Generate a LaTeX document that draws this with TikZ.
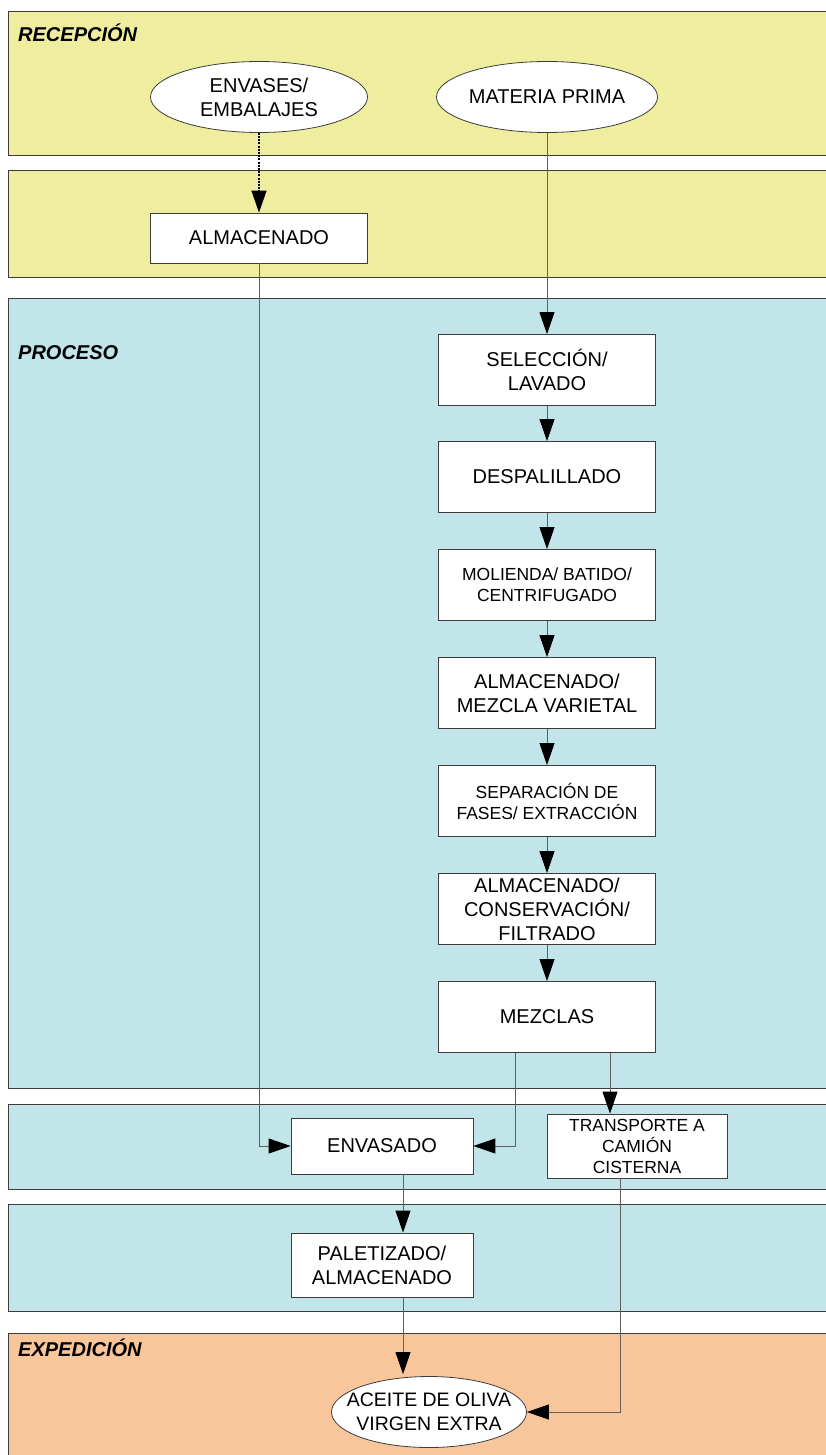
\documentclass[tikz,border=0pt]{standalone}
\usepackage{fontspec}
\setmainfont{Liberation Sans}
\usetikzlibrary{shapes.geometric,arrows.meta,positioning}

\definecolor{amarillo}{HTML}{EEEE9E}
\definecolor{celeste}{HTML}{C2E5E9}
\definecolor{naranja}{HTML}{F9C59A}
\definecolor{borde}{HTML}{3C3C3C}
\definecolor{linea}{HTML}{606060}

\tikzset{
  caja/.style={draw=borde, fill=white, line width=0.8pt, align=center, inner sep=0pt,
    minimum width=217pt, minimum height=71pt, font=\fontsize{20}{24}\selectfont},
  chica/.style={font=\fontsize{17.5}{21}\selectfont},
  elipse/.style={caja, ellipse},
  flecha/.style={draw=linea, line width=0.9pt,
    -{Triangle[length=22pt,width=15pt,color=black]}},
  punteada/.style={flecha, draw=black, line width=1.3pt, dash pattern=on 2pt off 1.2pt},
  banda/.style={draw=borde, line width=0.9pt},
  titulo/.style={anchor=west, inner sep=0pt, font=\fontsize{20}{22}\selectfont\bfseries\itshape}
}

\begin{document}
\begin{tikzpicture}[x=1pt, y=-1pt]
    \useasboundingbox (0,0) rectangle (825,1455);

    % bandas
    \filldraw[banda, fill=amarillo] (8,11) rectangle (830,155);
    \filldraw[banda, fill=amarillo] (8,170) rectangle (830,277);
    \filldraw[banda, fill=celeste] (8,298) rectangle (830,1088);
    \filldraw[banda, fill=celeste] (8,1104) rectangle (830,1189);
    \filldraw[banda, fill=celeste] (8,1204) rectangle (830,1311);
    \filldraw[banda, fill=naranja] (8,1333) rectangle (830,1460);

    \node[titulo] (trecep) at (18,33) {RECEPCIÓN};
    \node[titulo] (tproc) at (18,353) {PROCESO};
    \node[titulo] (texped) at (18,1348) {EXPEDICIÓN};

    % recepcion
    \node[elipse] (envases) at (259,97) {ENVASES/\\EMBALAJES};
    \node[elipse] (materia) at (547,97) {MATERIA PRIMA};
    \node[caja, minimum height=50pt] (almac) at (259,238) {ALMACENADO};

    % proceso
    \node[caja] (seleccion) at (547,370) {SELECCIÓN/\\LAVADO};
    \node[caja] (despal) at (547,477) {DESPALILLADO};
    \node[caja, chica] (molienda) at (547,585) {MOLIENDA/ BATIDO/\\CENTRIFUGADO};
    \node[caja] (mezclavar) at (547,693) {ALMACENADO/\\MEZCLA VARIETAL};
    \node[caja, chica] (separa) at (547,801) {SEPARACIÓN DE\\FASES/ EXTRACCIÓN};
    \node[caja] (conserva) at (547,909) {ALMACENADO/\\CONSERVACIÓN/\\FILTRADO};
    \node[caja] (mezclas) at (547,1017) {MEZCLAS};

    % envasado y expedicion
    \node[caja, minimum width=182pt, minimum height=56pt] (envasado) at (382,1146) {ENVASADO};
    \node[caja, chica, minimum width=180pt, minimum height=64pt] (transporte) at (637,1146) {TRANSPORTE A\\CAMIÓN\\CISTERNA};
    \node[caja, minimum width=182pt, minimum height=64pt] (paletizado) at (382,1265) {PALETIZADO/\\ALMACENADO};
    \node[elipse, minimum width=195pt, inner xsep=-16pt, font=\fontsize{19.5}{24}\selectfont] (aceite) at (429,1412) {ACEITE DE OLIVA\\VIRGEN EXTRA};

    % flechas
    \draw[punteada] (envases) -- (almac);
    \draw[flecha] (materia) -- (seleccion);
    \draw[flecha] (seleccion) -- (despal);
    \draw[flecha] (despal) -- (molienda);
    \draw[flecha] (molienda) -- (mezclavar);
    \draw[flecha] (mezclavar) -- (separa);
    \draw[flecha] (separa) -- (conserva);
    \draw[flecha] (conserva) -- (mezclas);
    \draw[flecha] (almac.south) |- (envasado.west);
    \draw[flecha] ([xshift=-32pt]mezclas.south) |- (envasado.east);
    \draw[flecha] ([xshift=63pt]mezclas.south) -- ([xshift=63pt]mezclas.south |- transporte.north);
    \draw[flecha] ([xshift=21pt]envasado.south) -- ([xshift=21pt]envasado.south |- paletizado.north);
    \draw[flecha] ([xshift=21pt]paletizado.south) -- ([xshift=21pt, yshift=2pt]paletizado.south |- aceite.north);
    \draw[flecha] ([xshift=-17pt]transporte.south) |- (aceite.east);
\end{tikzpicture}
\end{document}
